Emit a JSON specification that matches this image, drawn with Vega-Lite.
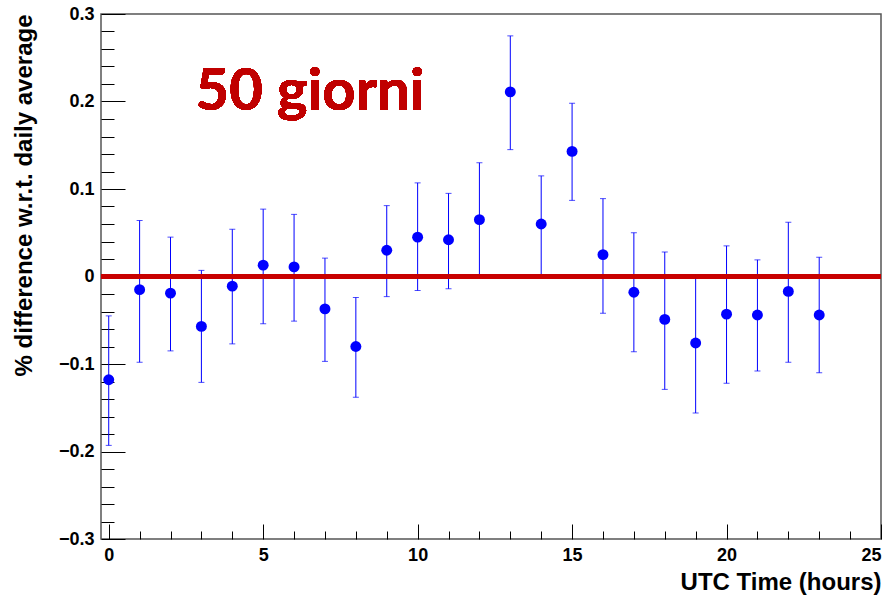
{
  "$schema": "https://vega.github.io/schema/vega-lite/v6.json",
  "width": 780,
  "height": 525,
  "autosize": "none",
  "padding": {"left": 101, "top": 14, "right": 10, "bottom": 56},
  "background": "white",
  "config": {
    "view": {"stroke": "#555555", "strokeWidth": 1.5},
    "axis": {
      "labelFont": "Liberation Sans", "labelFontWeight": "bold", "labelFontSize": 18, "labelColor": "black",
      "titleFont": "Liberation Sans", "titleFontWeight": "bold", "titleFontSize": 24, "titleColor": "black",
      "tickColor": "black", "tickWidth": 1, "domain": false, "grid": false
    }
  },
  "data": {
    "values": [
      {"h": 0, "v": -0.118, "lo": -0.193, "hi": -0.045},
      {"h": 1, "v": -0.015, "lo": -0.098, "hi": 0.064},
      {"h": 2, "v": -0.019, "lo": -0.085, "hi": 0.045},
      {"h": 3, "v": -0.057, "lo": -0.121, "hi": 0.007},
      {"h": 4, "v": -0.011, "lo": -0.077, "hi": 0.054},
      {"h": 5, "v": 0.013, "lo": -0.054, "hi": 0.077},
      {"h": 6, "v": 0.011, "lo": -0.051, "hi": 0.071},
      {"h": 7, "v": -0.037, "lo": -0.097, "hi": 0.021},
      {"h": 8, "v": -0.080, "lo": -0.138, "hi": -0.024},
      {"h": 9, "v": 0.030, "lo": -0.023, "hi": 0.081},
      {"h": 10, "v": 0.045, "lo": -0.016, "hi": 0.107},
      {"h": 11, "v": 0.042, "lo": -0.014, "hi": 0.095},
      {"h": 12, "v": 0.065, "lo": 0.001, "hi": 0.130},
      {"h": 13, "v": 0.211, "lo": 0.145, "hi": 0.275},
      {"h": 14, "v": 0.060, "lo": 0.002, "hi": 0.115},
      {"h": 15, "v": 0.143, "lo": 0.087, "hi": 0.198},
      {"h": 16, "v": 0.025, "lo": -0.042, "hi": 0.089},
      {"h": 17, "v": -0.018, "lo": -0.086, "hi": 0.050},
      {"h": 18, "v": -0.049, "lo": -0.129, "hi": 0.028},
      {"h": 19, "v": -0.076, "lo": -0.156, "hi": 0.002},
      {"h": 20, "v": -0.043, "lo": -0.122, "hi": 0.035},
      {"h": 21, "v": -0.044, "lo": -0.108, "hi": 0.019},
      {"h": 22, "v": -0.017, "lo": -0.098, "hi": 0.062},
      {"h": 23, "v": -0.044, "lo": -0.110, "hi": 0.022}
    ]
  },
  "resolve": {"axis": {"x": "independent", "y": "independent"}},
  "layer": [
    {
      "mark": {"type": "rule", "color": "#0000ff", "strokeWidth": 1},
      "encoding": {
        "x": {
          "field": "h", "type": "quantitative",
          "scale": {"domain": [-0.25, 25], "nice": false, "zero": false},
          "axis": {"orient": "bottom", "values": [1, 2, 3, 4, 6, 7, 8, 9, 11, 12, 13, 14, 16, 17, 18, 19, 21, 22, 23, 24], "tickSize": -8, "labels": false, "title": null}
        },
        "y": {
          "field": "lo", "type": "quantitative",
          "scale": {"domain": [-0.3, 0.3], "nice": false, "zero": false},
          "axis": {"orient": "left", "values": [-0.28, -0.26, -0.24, -0.22, -0.18, -0.16, -0.14, -0.12, -0.08, -0.06, -0.04, -0.02, 0.02, 0.04, 0.06, 0.08, 0.12, 0.14, 0.16, 0.18, 0.22, 0.24, 0.26, 0.28], "tickSize": -13, "labels": false, "title": null}
        },
        "y2": {"field": "hi"}
      }
    },
    {
      "mark": {"type": "tick", "orient": "horizontal", "size": 6, "thickness": 1, "color": "#0000ff"},
      "encoding": {
        "x": {"field": "h", "type": "quantitative", "axis": null},
        "y": {"field": "lo", "type": "quantitative", "axis": null}
      }
    },
    {
      "mark": {"type": "tick", "orient": "horizontal", "size": 6, "thickness": 1, "color": "#0000ff"},
      "encoding": {
        "x": {"field": "h", "type": "quantitative", "axis": null},
        "y": {"field": "hi", "type": "quantitative", "axis": null}
      }
    },
    {
      "mark": {"type": "rule", "color": "#c80000", "strokeWidth": 4},
      "encoding": {
        "y": {"datum": 0, "type": "quantitative", "axis": null}
      }
    },
    {
      "mark": {"type": "point", "shape": "circle", "filled": true, "size": 120, "color": "#0000ff", "opacity": 1},
      "encoding": {
        "x": {
          "field": "h", "type": "quantitative",
          "axis": {"orient": "bottom", "values": [0, 5, 10, 15, 20, 25], "tickSize": -15, "labelPadding": 22, "title": "UTC Time (hours)", "titleAnchor": "end", "titlePadding": 6}
        },
        "y": {
          "field": "v", "type": "quantitative",
          "axis": {"orient": "left", "values": [-0.3, -0.2, -0.1, 0, 0.1, 0.2, 0.3], "format": "~g", "tickSize": -24, "labelPadding": 31, "title": "% difference w.r.t. daily average", "titleAnchor": "end", "titlePadding": 22}
        }
      }
    },
    {
      "mark": {"type": "text", "text": "50 giorni", "font": "Lato", "fontWeight": "bold", "fontSize": 58, "color": "#c00000", "align": "left", "baseline": "alphabetic"},
      "encoding": {
        "x": {"datum": 2.81, "type": "quantitative", "axis": null},
        "y": {"datum": 0.19, "type": "quantitative", "axis": null}
      }
    }
  ]
}
